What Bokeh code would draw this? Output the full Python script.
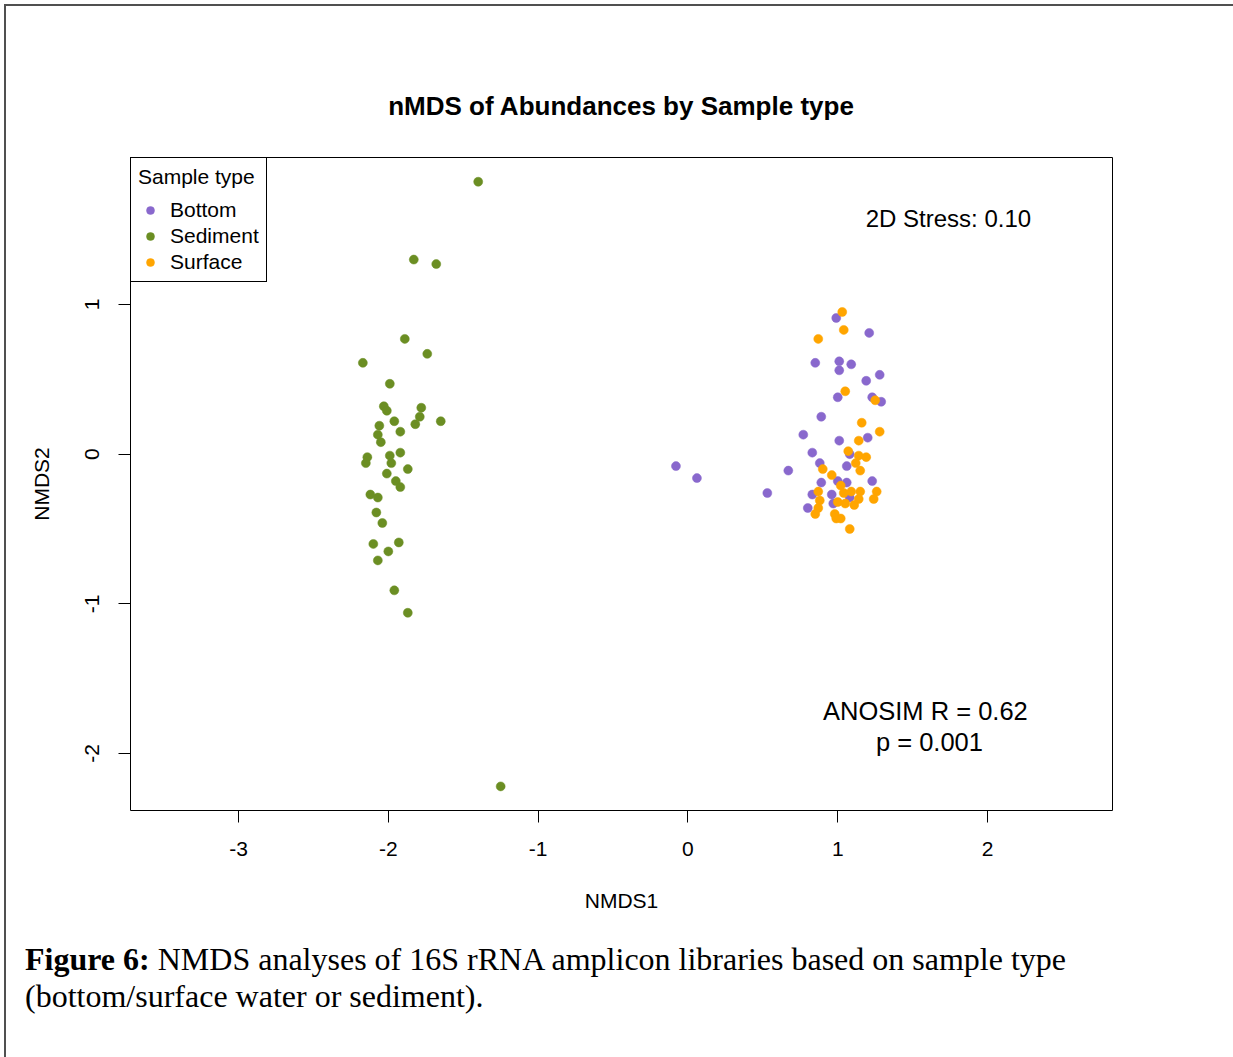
from bokeh.plotting import figure
from bokeh.layouts import column
from bokeh.models import Range1d, FixedTicker, Legend, LegendItem, Label, Div
from bokeh.embed import file_html
from bokeh.resources import INLINE

# nMDS coordinates per sample type
bottom_x = [-0.08, 0.06, 0.53, 0.67, 0.99, 1.21, 0.85, 1.01, 1.09, 1.01, 1.19, 1.28,
            1.00, 1.23, 1.29, 0.89, 0.77, 1.01, 1.20, 0.83, 1.08, 0.88, 1.06, 1.23,
            0.89, 1.00, 1.06, 0.83, 0.96, 1.08, 0.80, 0.97]
bottom_y = [-0.08, -0.16, -0.26, -0.11, 0.91, 0.81, 0.61, 0.62, 0.60, 0.56, 0.49, 0.53,
            0.38, 0.38, 0.35, 0.25, 0.13, 0.09, 0.11, 0.01, 0.00, -0.06, -0.08, -0.18,
            -0.19, -0.18, -0.19, -0.27, -0.27, -0.29, -0.36, -0.33]

sediment_x = [-1.40, -1.83, -1.68, -1.89, -1.74, -2.17, -1.99, -2.03, -2.01, -1.78,
              -1.79, -1.65, -1.96, -2.06, -1.82, -1.92, -2.07, -2.05, -2.14, -2.15,
              -1.99, -1.92, -1.98, -1.87, -2.01, -1.95, -1.92, -2.12, -2.07, -2.08,
              -2.04, -2.10, -1.93, -2.00, -2.07, -1.96, -1.87, -1.25]
sediment_y = [1.82, 1.30, 1.27, 0.77, 0.67, 0.61, 0.47, 0.32, 0.29, 0.31,
              0.25, 0.22, 0.22, 0.19, 0.20, 0.15, 0.13, 0.08, -0.02, -0.06,
              -0.01, 0.01, -0.06, -0.10, -0.13, -0.18, -0.22, -0.27, -0.29, -0.39,
              -0.46, -0.60, -0.59, -0.65, -0.71, -0.91, -1.06, -2.22]

surface_x = [1.03, 1.04, 0.87, 1.05, 1.25, 1.16, 1.28, 1.14, 1.07, 1.14, 1.19,
             1.12, 1.15, 0.90, 0.96, 1.02, 0.87, 1.04, 1.09, 1.15, 1.26, 1.24,
             1.14, 0.88, 1.00, 1.05, 1.11, 0.87, 0.85, 0.99, 1.02, 0.98, 1.08]
surface_y = [0.95, 0.83, 0.77, 0.42, 0.36, 0.21, 0.15, 0.09, 0.02, -0.01, -0.02,
             -0.06, -0.11, -0.10, -0.14, -0.21, -0.25, -0.26, -0.25, -0.25, -0.25, -0.30,
             -0.30, -0.31, -0.32, -0.33, -0.34, -0.36, -0.40, -0.43, -0.43, -0.40, -0.50]

group_names = ["Bottom", "Sediment", "Surface"]
group_colors = ["#8968CD", "#6B8E23", "#FFA500"]
x_ticks = [-3, -2, -1, 0, 1, 2]
y_ticks = [-2, -1, 0, 1]

title_text = "nMDS of Abundances by Sample type"
stress_text = "2D Stress: 0.10"
anosim_text = "ANOSIM R = 0.62"
pval_text = "p = 0.001"
caption_head = "Figure 6:"
caption_line1 = "NMDS analyses of 16S rRNA amplicon libraries based on sample type"
caption_line2 = "(bottom/surface water or sediment)."

SANS = "Liberation Sans"
SERIF = "Liberation Serif"

# page geometry (pixels); the page border sits just inside the window edge
EDGE = 6
PAGE_W = 1231 - EDGE
PLOT_H = 930
CAP_H = 125

p = figure(width=PAGE_W, height=PLOT_H, output_backend="svg", toolbar_location=None,
           x_range=Range1d(-3.721, 2.834), y_range=Range1d(-2.381, 1.982),
           min_border_left=130 - EDGE, min_border_right=PAGE_W - (1112 - EDGE),
           min_border_top=157 - EDGE, min_border_bottom=PLOT_H - (810 - EDGE),
           background_fill_color="white", border_fill_color="white")

p.title.text = title_text
p.title.align = "center"
p.title.text_font = SANS
p.title.text_font_size = "26px"
p.title.text_font_style = "bold"
p.title.text_color = "black"
p.title.standoff = 73

p.grid.visible = False
p.outline_line_color = "black"
p.outline_line_width = 1
p.outline_line_alpha = 1

for ax, ticks in ((p.xaxis[0], x_ticks), (p.yaxis[0], y_ticks)):
    ax.ticker = FixedTicker(ticks=ticks)
    # plain hyphen-minus for negative tick labels
    ax.major_label_overrides = {t: str(t) for t in ticks}
    ax.axis_line_color = None
    ax.major_tick_out = 12
    ax.major_tick_in = 0
    ax.minor_tick_line_color = None
    ax.major_tick_line_color = "black"
    ax.major_label_text_font = SANS
    ax.major_label_text_font_size = "21px"
    ax.major_label_text_color = "black"
    ax.axis_label_text_font = SANS
    ax.axis_label_text_font_size = "21px"
    ax.axis_label_text_font_style = "normal"
    ax.axis_label_text_color = "black"

p.xaxis.axis_label = "NMDS1"
p.yaxis.axis_label = "NMDS2"
p.xaxis.major_label_standoff = 19
p.xaxis.axis_label_standoff = 30
p.yaxis.major_label_orientation = "vertical"
p.yaxis.major_label_standoff = 19
p.yaxis.axis_label_standoff = 30

series = [(bottom_x, bottom_y), (sediment_x, sediment_y), (surface_x, surface_y)]
items = []
for (xs, ys), name, col in zip(series, group_names, group_colors):
    r = p.scatter(xs, ys, size=9, fill_color=col, line_color=col, line_width=0.5)
    items.append(LegendItem(label=name, renderers=[r]))

legend = Legend(items=items, location="top_left", title="Sample type",
                margin=0, padding=7, spacing=2,
                glyph_width=24, glyph_height=20, label_height=20,
                label_standoff=8, title_standoff=9,
                label_text_font=SANS, label_text_font_size="21px", label_text_color="black",
                title_text_font=SANS, title_text_font_size="21px", title_text_color="black",
                title_text_font_style="normal",
                border_line_color="black", border_line_width=1, border_line_alpha=1,
                background_fill_color="white", background_fill_alpha=1)
p.add_layout(legend)

# in-panel annotations
p.add_layout(Label(x=1.739, y=1.577, text=stress_text, text_align="center",
                   text_baseline="middle", text_font=SANS, text_font_size="24px",
                   text_color="black"))
p.add_layout(Label(x=1.585, y=-1.717, text=anosim_text, text_align="center",
                   text_baseline="middle", text_font=SANS, text_font_size="25.5px",
                   text_color="black"))
p.add_layout(Label(x=1.612, y=-1.924, text=pval_text, text_align="center",
                   text_baseline="middle", text_font=SANS, text_font_size="25.5px",
                   text_color="black"))

# figure caption below the chart
caption = Div(
    text=f"<b>{caption_head}</b> {caption_line1}<br>{caption_line2}",
    width=PAGE_W, height=CAP_H,
    styles={"font-family": SERIF, "font-size": "32px", "line-height": "37px",
            "color": "black", "padding-left": "14px", "padding-top": "0px",
            "white-space": "nowrap", "box-sizing": "border-box"})

page = column(p, caption, spacing=0,
              styles={"border": "2px solid #505050", "margin-left": "4px",
                      "margin-top": "4px", "background": "white"})

open("out.html", "w").write(file_html(page, INLINE))
